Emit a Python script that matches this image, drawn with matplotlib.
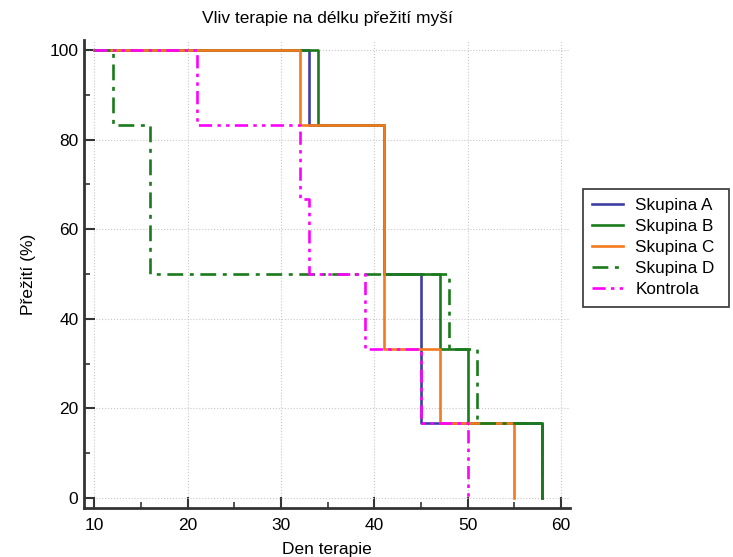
import matplotlib
matplotlib.use("Agg")
import matplotlib.pyplot as plt
from matplotlib.ticker import MultipleLocator

plt.rcParams['font.family'] = ['Liberation Sans', 'DejaVu Sans']

# Survival data (day, % surviving after that day)
a_days = [10, 33, 41, 45, 58]
a_surv = [100, 83.3, 50, 16.7, 0]
b_days = [10, 34, 41, 47, 50, 58]
b_surv = [100, 83.3, 50, 33.3, 16.7, 0]
c_days = [10, 32, 41, 47, 55]
c_surv = [100, 83.3, 33.3, 16.7, 0]
d_days = [10, 12, 16, 48, 51, 58]
d_surv = [100, 83.3, 50, 33.3, 16.7, 0]
k_days = [10, 21, 32, 33, 39, 45, 50]
k_surv = [100, 83.3, 66.7, 50, 33.3, 16.7, 0]

labels = ["Skupina A", "Skupina B", "Skupina C", "Skupina D", "Kontrola"]

fig = plt.figure(figsize=(7.33, 5.57), dpi=100)
ax = fig.add_axes([0.1146, 0.0880, 0.6634, 0.8402])

ax.step(a_days, a_surv, where='post', color='#3f3fa3', lw=1.9, label=labels[0])
ax.step(b_days, b_surv, where='post', color='#1b7a1b', lw=1.9, label=labels[1])
ax.step(c_days, c_surv, where='post', color='#f47a20', lw=1.9, label=labels[2])
ax.step(d_days, d_surv, where='post', color='#1b7a1b', lw=1.9,
        dashes=(6, 2.5, 1.5, 2.5), label=labels[3])
ax.step(k_days, k_surv, where='post', color='#ff00ff', lw=1.9,
        dashes=(5, 2, 1.3, 2, 1.3, 2), label=labels[4])

ax.set_xlim(8.9, 61)
ax.set_ylim(-2.2, 102.2)
ax.xaxis.set_major_locator(MultipleLocator(10))
ax.xaxis.set_minor_locator(MultipleLocator(5))
ax.yaxis.set_major_locator(MultipleLocator(20))
ax.yaxis.set_minor_locator(MultipleLocator(10))
ax.grid(True, which='major', color='#c8c8c8', ls=':', lw=0.8)

for s in ['top', 'right']:
    ax.spines[s].set_visible(False)
for s in ['left', 'bottom']:
    ax.spines[s].set_color('#333333')
    ax.spines[s].set_linewidth(2)
ax.tick_params(which='major', direction='in', length=8, width=1.5, color='#333333', labelsize=12.5)
ax.tick_params(which='minor', direction='in', length=4, width=1.2, color='#333333')
ax.tick_params(axis='x', which='major', pad=7.5)
ax.tick_params(axis='y', which='major', pad=4)

ax.set_title("Vliv terapie na délku přežití myší", fontsize=12.5, pad=12)
ax.set_xlabel("Den terapie", fontsize=12.5, labelpad=6)
ax.set_ylabel("Přežití (%)", fontsize=12.5, labelpad=10)

leg = fig.legend(loc='upper left', bbox_to_anchor=(0.7954, 0.6607, 0.1992, 0.0),
                 mode='expand', borderaxespad=0,
                 fontsize=12.3, frameon=True, fancybox=False, edgecolor='black',
                 handlelength=1.8, handletextpad=0.7, borderpad=0.55, labelspacing=0.35)
leg.get_frame().set_linewidth(1.2)

fig.savefig("out.png", dpi=100)
